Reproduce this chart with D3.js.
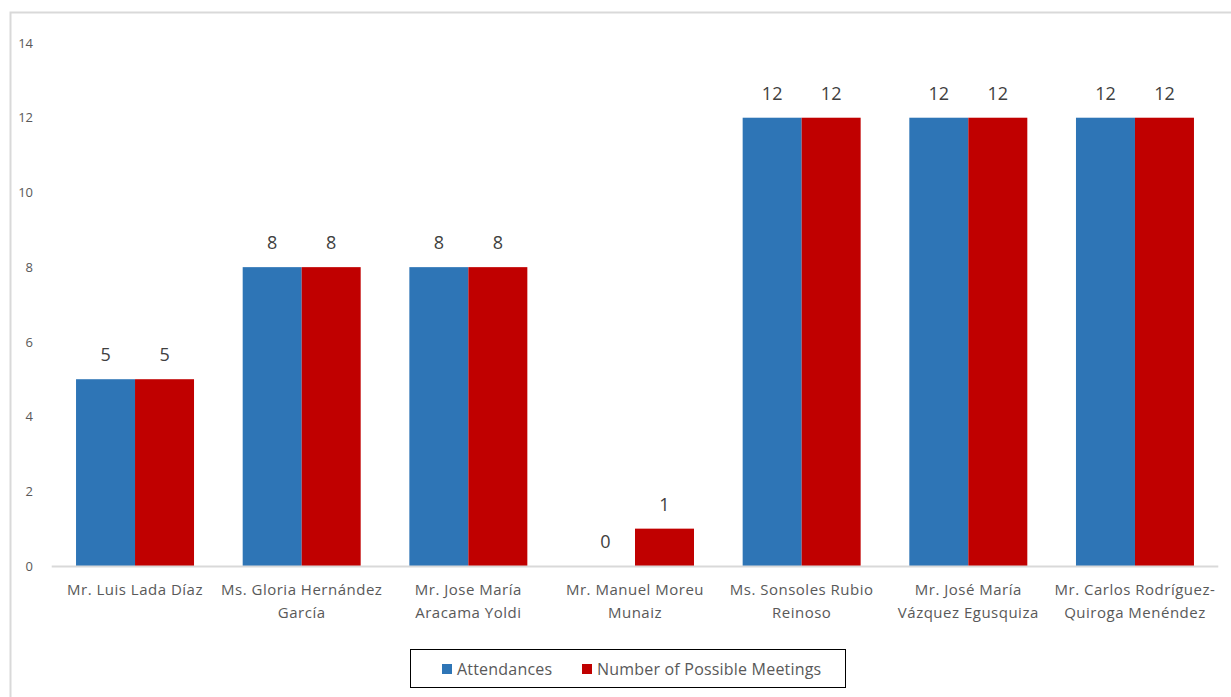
<!DOCTYPE html>
<html>
<head>
<meta charset="utf-8">
<script src="https://cdn.jsdelivr.net/npm/d3@7"></script>
<style>
  body { margin: 0; background: #fff; }
  text { font-family: "Open Sans", "Liberation Sans", sans-serif; }
</style>
</head>
<body>
<div id="chart"></div>
<script>
// data
const categories = [
  ['Mr. Luis Lada Díaz'],
  ['Ms. Gloria Hernández', 'García'],
  ['Mr. Jose María', 'Aracama Yoldi'],
  ['Mr. Manuel Moreu', 'Munaiz'],
  ['Ms. Sonsoles Rubio', 'Reinoso'],
  ['Mr. José María', 'Vázquez Egusquiza'],
  ['Mr. Carlos Rodríguez-', 'Quiroga Menéndez']
];
const attendances = [5, 8, 8, 0, 12, 12, 12];
const possibleMeetings = [5, 8, 8, 1, 12, 12, 12];
const seriesNames = ['Attendances', 'Number of Possible Meetings'];
const seriesColors = ['#2E75B6', '#C00000'];
const yTicks = [0, 2, 4, 6, 8, 10, 12, 14];

const width = 1231, height = 697;
const plot = { left: 51.7, right: 1218.3, top: 43, bottom: 566 };

const svg = d3.select('#chart')
  .append('svg')
  .attr('width', width)
  .attr('height', height);

// chart border (left + top visible)
svg.append('rect')
  .attr('x', 10.5).attr('y', 12.5)
  .attr('width', 1240).attr('height', 700)
  .attr('fill', 'none')
  .attr('stroke', '#d9d9d9')
  .attr('stroke-width', 2);

const x0 = d3.scaleBand()
  .domain(d3.range(categories.length))
  .range([plot.left, plot.right])
  .paddingInner(0.292)
  .paddingOuter(0.146);

const x1 = d3.scaleBand()
  .domain([0, 1])
  .range([0, x0.bandwidth()]);

const y = d3.scaleLinear()
  .domain([0, 14])
  .range([plot.bottom, plot.top]);

// y axis labels
const yAxis = d3.axisLeft(y).tickValues(yTicks).tickSize(0).tickPadding(0);
const yg = svg.append('g')
  .attr('transform', `translate(33,0)`)
  .call(yAxis);
yg.select('.domain').remove();
yg.selectAll('text')
  .attr('fill', '#595959')
  .style('font-size', '13px')
  .style('font-family', '"Open Sans", sans-serif');

const rows = categories.map((c, i) => ({ i, vals: [attendances[i], possibleMeetings[i]] }));

const groups = svg.append('g').attr('class', 'bars')
  .selectAll('g')
  .data(rows)
  .enter()
    .append('g')
    .attr('transform', d => `translate(${x0(d.i)},0)`);

groups.selectAll('rect')
  .data(d => d.vals.map((v, k) => ({ v, k })))
  .enter()
    .append('rect')
    .attr('x', d => x1(d.k))
    .attr('y', d => y(d.v))
    .attr('width', x1.bandwidth())
    .attr('height', d => y(0) - y(d.v))
    .attr('fill', d => seriesColors[d.k]);

groups.selectAll('text.val')
  .data(d => d.vals.map((v, k) => ({ v, k })))
  .enter()
    .append('text')
    .attr('class', 'val')
    .attr('x', d => x1(d.k) + x1.bandwidth() / 2)
    .attr('y', d => y(d.v) - 18)
    .attr('text-anchor', 'middle')
    .attr('fill', '#404040')
    .style('font-size', '18px')
    .text(d => d.v);

// x axis baseline
svg.append('line')
  .attr('x1', plot.left).attr('x2', plot.right)
  .attr('y1', y(0) + 0.5).attr('y2', y(0) + 0.5)
  .attr('stroke', '#d9d9d9')
  .attr('stroke-width', 2);

// category labels
const catLabels = svg.append('g').selectAll('text')
  .data(categories)
  .enter()
    .append('text')
    .attr('x', (d, i) => x0(i) + x0.bandwidth() / 2)
    .attr('y', 595)
    .attr('text-anchor', 'middle')
    .attr('fill', '#595959')
    .style('font-size', '15px')
    .style('letter-spacing', '0.5px');
catLabels.selectAll('tspan')
  .data(d => d)
  .enter()
    .append('tspan')
    .attr('x', function () { return this.parentNode.getAttribute('x'); })
    .attr('dy', (d, i) => i === 0 ? 0 : 23)
    .text(d => d);

// legend
const legend = svg.append('g').attr('class', 'legend');
legend.append('rect')
  .attr('x', 410.5).attr('y', 649.5)
  .attr('width', 435).attr('height', 38)
  .attr('fill', '#fff')
  .attr('stroke', '#000')
  .attr('stroke-width', 1);

const legendX = [442, 582];
const items = legend.selectAll('g.item')
  .data(seriesNames)
  .enter()
    .append('g')
    .attr('class', 'item')
    .attr('transform', (d, i) => `translate(${legendX[i]},664)`);
items.append('rect')
  .attr('width', 10).attr('height', 10)
  .attr('fill', (d, i) => seriesColors[i]);
items.append('text')
  .attr('x', 15).attr('y', 10.5)
  .attr('fill', '#595959')
  .style('font-size', '16px')
  .style('letter-spacing', '0.2px')
  .text(d => d);
</script>
</body>
</html>
